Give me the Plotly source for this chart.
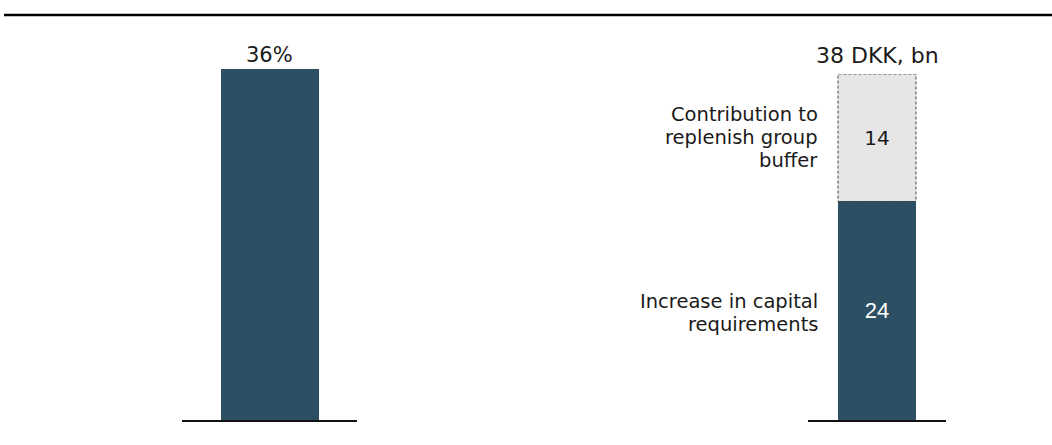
import plotly.graph_objects as go

W, H = 1052, 445

# Data
left_category = ["Ratio"]
left_values = [36]
left_label = "36%"

right_category = ["Capital"]
segment_values = [24, 14]
segment_label_lines = [
    ["Increase in capital", "requirements"],
    ["Contribution to", "replenish group", "buffer"],
]
right_total_label = "38 DKK, bn"

DARK = "#2D4F63"
LIGHT = "#E6E6E6"
TEXT = "#1a1a1a"
FONT = "DejaVu Sans"

def px_x(v):
    return v / W

def px_y(v):
    return (H - v) / H

fig = go.Figure()

fig.add_trace(go.Bar(
    x=left_category, y=left_values, marker=dict(color=DARK, line=dict(width=0)),
    width=0.56, xaxis="x", yaxis="y", showlegend=False, hoverinfo="skip",
))

fig.add_trace(go.Bar(
    x=right_category, y=[segment_values[0]], marker=dict(color=DARK, line=dict(width=0)),
    width=0.565, xaxis="x2", yaxis="y2", showlegend=False,
    text=[str(segment_values[0])], textposition="inside", insidetextanchor="middle",
    textfont=dict(color="white", size=22, family="Liberation Sans"), hoverinfo="skip",
))
fig.add_trace(go.Bar(
    x=right_category, y=[segment_values[1]], marker=dict(color=LIGHT, line=dict(width=0)),
    width=0.565, xaxis="x2", yaxis="y2", showlegend=False,
    text=[str(segment_values[1])], textposition="inside", insidetextanchor="middle",
    textfont=dict(color=TEXT, size=20, family=FONT), hoverinfo="skip",
))

total = sum(segment_values)

fig.update_layout(
    width=W, height=H, margin=dict(l=0, r=0, t=0, b=0),
    paper_bgcolor="white", plot_bgcolor="white", barmode="stack",
    bargap=0, font=dict(family=FONT, color=TEXT),
    xaxis=dict(domain=[px_x(182), px_x(357)], showticklabels=False, showgrid=False,
               zeroline=False, showline=True, linecolor="#111", linewidth=2, ticks="",
               fixedrange=True),
    yaxis=dict(domain=[px_y(420), px_y(69)], range=[0, left_values[0]], visible=False,
               fixedrange=True),
    xaxis2=dict(domain=[px_x(808), px_x(946)], showticklabels=False, showgrid=False,
                zeroline=False, showline=True, linecolor="#111", linewidth=2, ticks="",
                anchor="y2", fixedrange=True),
    yaxis2=dict(domain=[px_y(420), px_y(74)], range=[0, total], visible=False,
                anchor="x2", fixedrange=True),
)

# dashed outline around the light segment
fig.add_shape(type="rect", xref="x2", yref="y2", x0=-0.2825, x1=0.2825,
              y0=segment_values[0], y1=total,
              line=dict(color="#444", width=1, dash="3px,2px"), fillcolor="rgba(0,0,0,0)")

# top rule
fig.add_shape(type="line", xref="paper", yref="paper", x0=px_x(4), x1=1,
              y0=px_y(15), y1=px_y(15), line=dict(color="black", width=2.5))

# value labels above bars
fig.add_annotation(xref="x", yref="y", x=left_category[0], y=left_values[0],
                   text=left_label, showarrow=False, yanchor="bottom", yshift=0,
                   font=dict(size=21, family=FONT, color=TEXT))
fig.add_annotation(xref="x2", yref="y2", x=right_category[0], y=total,
                   text=right_total_label, showarrow=False, yanchor="bottom", yshift=4,
                   font=dict(size=22, family=FONT, color=TEXT))

# segment labels to the left of the right bar (one annotation per line for tight spacing)
LINE_GAP = 23
base = 0
centers = []
for v in segment_values:
    centers.append(base + v / 2)
    base += v
centers[0] -= 0.2
for lines, cy in zip(segment_label_lines, centers):
    n = len(lines)
    for i, line in enumerate(lines):
        shift = ((n - 1) / 2 - i) * LINE_GAP
        fig.add_annotation(xref="paper", yref="y2", x=px_x(820), y=cy, yshift=shift,
                           text=line, showarrow=False, xanchor="right", align="right",
                           font=dict(size=19.5, family=FONT, color=TEXT))

fig.write_html("out.html")
